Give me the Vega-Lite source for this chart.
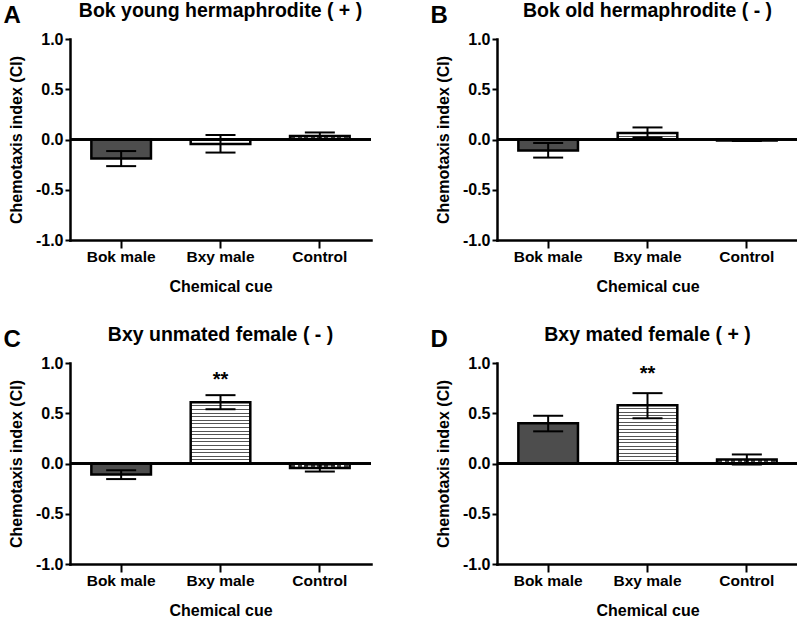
{
  "$schema": "https://vega.github.io/schema/vega-lite/v6.json",
  "padding": {"left": 3, "top": 0, "right": 2, "bottom": 0},
  "background": "white",
  "config": {
    "font": "Liberation Sans",
    "view": {"stroke": null},
    "axis": {"domainColor": "black", "tickColor": "black", "labelColor": "black", "titleColor": "black", "labelFontWeight": "bold", "titleFontWeight": "bold", "grid": false, "labelFont": "Liberation Sans", "titleFont": "Liberation Sans", "domainCap": "square"},
    "axisX": {"domainWidth": 2.5, "tickWidth": 2, "tickSize": 8, "labelFontSize": 15.5, "labelAngle": 0, "labelPadding": 1, "titleFontSize": 16, "titlePadding": 14},
    "axisY": {"domainWidth": 2.5, "tickWidth": 2, "tickSize": 5, "labelFontSize": 16, "labelPadding": 2, "titleFontSize": 16, "titlePadding": 11},
    "title": {"font": "Liberation Sans", "fontSize": 19.5, "fontWeight": "bold", "color": "black", "offset": 10}
  },
  "datasets": {
    "cues": [
      {"panel": "A", "cue": "Bok male", "mean": -0.19, "lo": -0.265, "hi": -0.115, "sig": ""},
      {"panel": "A", "cue": "Bxy male", "mean": -0.045, "lo": -0.13, "hi": 0.045, "sig": ""},
      {"panel": "A", "cue": "Control", "mean": 0.035, "lo": 0.0, "hi": 0.07, "sig": ""},
      {"panel": "B", "cue": "Bok male", "mean": -0.11, "lo": -0.18, "hi": -0.035, "sig": ""},
      {"panel": "B", "cue": "Bxy male", "mean": 0.065, "lo": 0.02, "hi": 0.12, "sig": ""},
      {"panel": "B", "cue": "Control", "mean": -0.01, "lo": -0.015, "hi": -0.005, "sig": ""},
      {"panel": "C", "cue": "Bok male", "mean": -0.11, "lo": -0.155, "hi": -0.067, "sig": ""},
      {"panel": "C", "cue": "Bxy male", "mean": 0.61, "lo": 0.54, "hi": 0.68, "sig": "**"},
      {"panel": "C", "cue": "Control", "mean": -0.045, "lo": -0.08, "hi": -0.01, "sig": ""},
      {"panel": "D", "cue": "Bok male", "mean": 0.40, "lo": 0.32, "hi": 0.475, "sig": ""},
      {"panel": "D", "cue": "Bxy male", "mean": 0.58, "lo": 0.45, "hi": 0.70, "sig": "**"},
      {"panel": "D", "cue": "Control", "mean": 0.04, "lo": -0.01, "hi": 0.09, "sig": ""}
    ]
  },
  "columns": 2,
  "spacing": {"row": 29, "column": 57},
  "concat": [
    {
      "title": {"text": "A", "anchor": "start", "frame": "bounds", "fontSize": 24, "offset": -27, "dx": -5},
      "vconcat": [{
        "title": {"text": "Bok young hermaphrodite ( + )"},
        "width": 301, "height": 201,
        "data": {"name": "cues"},
        "transform": [{"filter": "datum.panel === 'A'"}],
        "layer": [
          {"transform": [{"filter": "datum.cue === 'Bok male'"}], "mark": {"type": "bar", "fill": "#4d4d4d", "stroke": "black", "strokeWidth": 2.5},
           "encoding": {"x": {"field": "cue", "type": "nominal", "sort": ["Bok male", "Bxy male", "Control"], "scale": {"paddingInner": 0.4, "paddingOuter": 0.215}, "title": "Chemical cue"},
                        "y": {"field": "mean", "type": "quantitative", "scale": {"domain": [-1, 1], "nice": false}, "axis": {"values": [-1, -0.5, 0, 0.5, 1], "labelExpr": "(datum.value < 0 ? '-' : '') + format(abs(datum.value), '.1f')"}, "title": "Chemotaxis index (CI)"}}},
          {"transform": [{"filter": "datum.cue === 'Bxy male'"}], "mark": {"type": "bar", "fill": "white", "stroke": "black", "strokeWidth": 2.5},
           "encoding": {"x": {"field": "cue", "type": "nominal", "sort": ["Bok male", "Bxy male", "Control"]}, "y": {"field": "mean", "type": "quantitative"}}},
          {"transform": [{"filter": "datum.cue === 'Control'"}], "mark": {"type": "bar", "stroke": "black", "strokeWidth": 2.5,
             "fill": {"gradient": "linear", "x1": 0, "y1": 0, "x2": 1, "y2": 0, "stops": [
               {"offset": 0, "color": "white"},
               {"offset": 0.015, "color": "white"}, {"offset": 0.015, "color": "#444"}, {"offset": 0.085, "color": "#444"}, {"offset": 0.085, "color": "white"},
               {"offset": 0.126, "color": "white"}, {"offset": 0.126, "color": "#444"}, {"offset": 0.196, "color": "#444"}, {"offset": 0.196, "color": "white"},
               {"offset": 0.237, "color": "white"}, {"offset": 0.237, "color": "#444"}, {"offset": 0.307, "color": "#444"}, {"offset": 0.307, "color": "white"},
               {"offset": 0.348, "color": "white"}, {"offset": 0.348, "color": "#444"}, {"offset": 0.418, "color": "#444"}, {"offset": 0.418, "color": "white"},
               {"offset": 0.459, "color": "white"}, {"offset": 0.459, "color": "#444"}, {"offset": 0.529, "color": "#444"}, {"offset": 0.529, "color": "white"},
               {"offset": 0.571, "color": "white"}, {"offset": 0.571, "color": "#444"}, {"offset": 0.641, "color": "#444"}, {"offset": 0.641, "color": "white"},
               {"offset": 0.682, "color": "white"}, {"offset": 0.682, "color": "#444"}, {"offset": 0.752, "color": "#444"}, {"offset": 0.752, "color": "white"},
               {"offset": 0.793, "color": "white"}, {"offset": 0.793, "color": "#444"}, {"offset": 0.863, "color": "#444"}, {"offset": 0.863, "color": "white"},
               {"offset": 0.904, "color": "white"}, {"offset": 0.904, "color": "#444"}, {"offset": 0.974, "color": "#444"}, {"offset": 0.974, "color": "white"},
               {"offset": 1, "color": "white"}]}},
           "encoding": {"x": {"field": "cue", "type": "nominal", "sort": ["Bok male", "Bxy male", "Control"]}, "y": {"field": "mean", "type": "quantitative"}}},
          {"mark": {"type": "rule", "strokeWidth": 2.5, "color": "black"}, "encoding": {"y": {"datum": 0, "type": "quantitative"}}},
          {"mark": {"type": "rule", "strokeWidth": 2, "color": "black"},
           "encoding": {"x": {"field": "cue", "type": "nominal", "sort": ["Bok male", "Bxy male", "Control"]}, "y": {"field": "lo", "type": "quantitative"}, "y2": {"field": "hi"}}},
          {"mark": {"type": "tick", "size": 30, "thickness": 2, "color": "black", "opacity": 1},
           "encoding": {"x": {"field": "cue", "type": "nominal", "sort": ["Bok male", "Bxy male", "Control"]}, "y": {"field": "lo", "type": "quantitative"}}},
          {"mark": {"type": "tick", "size": 30, "thickness": 2, "color": "black", "opacity": 1},
           "encoding": {"x": {"field": "cue", "type": "nominal", "sort": ["Bok male", "Bxy male", "Control"]}, "y": {"field": "hi", "type": "quantitative"}}}
        ]
      }]
    },
    {
      "title": {"text": "B", "anchor": "start", "frame": "bounds", "fontSize": 24, "offset": -27, "dx": -5},
      "vconcat": [{
        "title": {"text": "Bok old hermaphrodite ( - )"},
        "width": 301, "height": 201,
        "data": {"name": "cues"},
        "transform": [{"filter": "datum.panel === 'B'"}],
        "layer": [
          {"transform": [{"filter": "datum.cue === 'Bok male'"}], "mark": {"type": "bar", "fill": "#4d4d4d", "stroke": "black", "strokeWidth": 2.5},
           "encoding": {"x": {"field": "cue", "type": "nominal", "sort": ["Bok male", "Bxy male", "Control"], "scale": {"paddingInner": 0.4, "paddingOuter": 0.215}, "title": "Chemical cue"},
                        "y": {"field": "mean", "type": "quantitative", "scale": {"domain": [-1, 1], "nice": false}, "axis": {"values": [-1, -0.5, 0, 0.5, 1], "labelExpr": "(datum.value < 0 ? '-' : '') + format(abs(datum.value), '.1f')"}, "title": "Chemotaxis index (CI)"}}},
          {"transform": [{"filter": "datum.cue === 'Bxy male'"}], "mark": {"type": "bar", "stroke": "black", "strokeWidth": 2.5,
             "fill": {"gradient": "linear", "x1": 0, "y1": 0, "x2": 0, "y2": 1, "stops": [
               {"offset": 0, "color": "white"}, {"offset": 0.42, "color": "white"}, {"offset": 0.42, "color": "#555"}, {"offset": 0.58, "color": "#555"}, {"offset": 0.58, "color": "white"}, {"offset": 1, "color": "white"}]}},
           "encoding": {"x": {"field": "cue", "type": "nominal", "sort": ["Bok male", "Bxy male", "Control"]}, "y": {"field": "mean", "type": "quantitative"}}},
          {"transform": [{"filter": "datum.cue === 'Control'"}], "mark": {"type": "bar", "fill": "white", "stroke": "black", "strokeWidth": 2.5},
           "encoding": {"x": {"field": "cue", "type": "nominal", "sort": ["Bok male", "Bxy male", "Control"]}, "y": {"field": "mean", "type": "quantitative"}}},
          {"mark": {"type": "rule", "strokeWidth": 2.5, "color": "black"}, "encoding": {"y": {"datum": 0, "type": "quantitative"}}},
          {"mark": {"type": "rule", "strokeWidth": 2, "color": "black"},
           "encoding": {"x": {"field": "cue", "type": "nominal", "sort": ["Bok male", "Bxy male", "Control"]}, "y": {"field": "lo", "type": "quantitative"}, "y2": {"field": "hi"}}},
          {"mark": {"type": "tick", "size": 30, "thickness": 2, "color": "black", "opacity": 1},
           "encoding": {"x": {"field": "cue", "type": "nominal", "sort": ["Bok male", "Bxy male", "Control"]}, "y": {"field": "lo", "type": "quantitative"}}},
          {"mark": {"type": "tick", "size": 30, "thickness": 2, "color": "black", "opacity": 1},
           "encoding": {"x": {"field": "cue", "type": "nominal", "sort": ["Bok male", "Bxy male", "Control"]}, "y": {"field": "hi", "type": "quantitative"}}}
        ]
      }]
    },
    {
      "title": {"text": "C", "anchor": "start", "frame": "bounds", "fontSize": 24, "offset": -27, "dx": -5},
      "vconcat": [{
        "title": {"text": "Bxy unmated female ( - )"},
        "width": 301, "height": 201,
        "data": {"name": "cues"},
        "transform": [{"filter": "datum.panel === 'C'"}],
        "layer": [
          {"transform": [{"filter": "datum.cue === 'Bok male'"}], "mark": {"type": "bar", "fill": "#4d4d4d", "stroke": "black", "strokeWidth": 2.5},
           "encoding": {"x": {"field": "cue", "type": "nominal", "sort": ["Bok male", "Bxy male", "Control"], "scale": {"paddingInner": 0.4, "paddingOuter": 0.215}, "title": "Chemical cue"},
                        "y": {"field": "mean", "type": "quantitative", "scale": {"domain": [-1, 1], "nice": false}, "axis": {"values": [-1, -0.5, 0, 0.5, 1], "labelExpr": "(datum.value < 0 ? '-' : '') + format(abs(datum.value), '.1f')"}, "title": "Chemotaxis index (CI)"}}},
          {"transform": [{"filter": "datum.cue === 'Bxy male'"}], "mark": {"type": "bar", "stroke": "black", "strokeWidth": 2.5,
             "fill": {"gradient": "linear", "x1": 0, "y1": 0, "x2": 0, "y2": 1, "stops": [
               {"offset": 0, "color": "white"},
               {"offset": 0.0508, "color": "white"}, {"offset": 0.0508, "color": "#555"}, {"offset": 0.0668, "color": "#555"}, {"offset": 0.0668, "color": "white"},
               {"offset": 0.1096, "color": "white"}, {"offset": 0.1096, "color": "#555"}, {"offset": 0.1256, "color": "#555"}, {"offset": 0.1256, "color": "white"},
               {"offset": 0.1685, "color": "white"}, {"offset": 0.1685, "color": "#555"}, {"offset": 0.1845, "color": "#555"}, {"offset": 0.1845, "color": "white"},
               {"offset": 0.2273, "color": "white"}, {"offset": 0.2273, "color": "#555"}, {"offset": 0.2433, "color": "#555"}, {"offset": 0.2433, "color": "white"},
               {"offset": 0.2861, "color": "white"}, {"offset": 0.2861, "color": "#555"}, {"offset": 0.3021, "color": "#555"}, {"offset": 0.3021, "color": "white"},
               {"offset": 0.3449, "color": "white"}, {"offset": 0.3449, "color": "#555"}, {"offset": 0.3609, "color": "#555"}, {"offset": 0.3609, "color": "white"},
               {"offset": 0.4038, "color": "white"}, {"offset": 0.4038, "color": "#555"}, {"offset": 0.4198, "color": "#555"}, {"offset": 0.4198, "color": "white"},
               {"offset": 0.4626, "color": "white"}, {"offset": 0.4626, "color": "#555"}, {"offset": 0.4786, "color": "#555"}, {"offset": 0.4786, "color": "white"},
               {"offset": 0.5214, "color": "white"}, {"offset": 0.5214, "color": "#555"}, {"offset": 0.5374, "color": "#555"}, {"offset": 0.5374, "color": "white"},
               {"offset": 0.5802, "color": "white"}, {"offset": 0.5802, "color": "#555"}, {"offset": 0.5962, "color": "#555"}, {"offset": 0.5962, "color": "white"},
               {"offset": 0.6391, "color": "white"}, {"offset": 0.6391, "color": "#555"}, {"offset": 0.6551, "color": "#555"}, {"offset": 0.6551, "color": "white"},
               {"offset": 0.6979, "color": "white"}, {"offset": 0.6979, "color": "#555"}, {"offset": 0.7139, "color": "#555"}, {"offset": 0.7139, "color": "white"},
               {"offset": 0.7567, "color": "white"}, {"offset": 0.7567, "color": "#555"}, {"offset": 0.7727, "color": "#555"}, {"offset": 0.7727, "color": "white"},
               {"offset": 0.8155, "color": "white"}, {"offset": 0.8155, "color": "#555"}, {"offset": 0.8315, "color": "#555"}, {"offset": 0.8315, "color": "white"},
               {"offset": 0.8744, "color": "white"}, {"offset": 0.8744, "color": "#555"}, {"offset": 0.8904, "color": "#555"}, {"offset": 0.8904, "color": "white"},
               {"offset": 0.9332, "color": "white"}, {"offset": 0.9332, "color": "#555"}, {"offset": 0.9492, "color": "#555"}, {"offset": 0.9492, "color": "white"},
               {"offset": 1, "color": "white"}]}},
           "encoding": {"x": {"field": "cue", "type": "nominal", "sort": ["Bok male", "Bxy male", "Control"]}, "y": {"field": "mean", "type": "quantitative"}}},
          {"transform": [{"filter": "datum.cue === 'Control'"}], "mark": {"type": "bar", "stroke": "black", "strokeWidth": 2.5,
             "fill": {"gradient": "linear", "x1": 0, "y1": 0, "x2": 1, "y2": 0, "stops": [
               {"offset": 0, "color": "white"},
               {"offset": 0.015, "color": "white"}, {"offset": 0.015, "color": "#444"}, {"offset": 0.085, "color": "#444"}, {"offset": 0.085, "color": "white"},
               {"offset": 0.126, "color": "white"}, {"offset": 0.126, "color": "#444"}, {"offset": 0.196, "color": "#444"}, {"offset": 0.196, "color": "white"},
               {"offset": 0.237, "color": "white"}, {"offset": 0.237, "color": "#444"}, {"offset": 0.307, "color": "#444"}, {"offset": 0.307, "color": "white"},
               {"offset": 0.348, "color": "white"}, {"offset": 0.348, "color": "#444"}, {"offset": 0.418, "color": "#444"}, {"offset": 0.418, "color": "white"},
               {"offset": 0.459, "color": "white"}, {"offset": 0.459, "color": "#444"}, {"offset": 0.529, "color": "#444"}, {"offset": 0.529, "color": "white"},
               {"offset": 0.571, "color": "white"}, {"offset": 0.571, "color": "#444"}, {"offset": 0.641, "color": "#444"}, {"offset": 0.641, "color": "white"},
               {"offset": 0.682, "color": "white"}, {"offset": 0.682, "color": "#444"}, {"offset": 0.752, "color": "#444"}, {"offset": 0.752, "color": "white"},
               {"offset": 0.793, "color": "white"}, {"offset": 0.793, "color": "#444"}, {"offset": 0.863, "color": "#444"}, {"offset": 0.863, "color": "white"},
               {"offset": 0.904, "color": "white"}, {"offset": 0.904, "color": "#444"}, {"offset": 0.974, "color": "#444"}, {"offset": 0.974, "color": "white"},
               {"offset": 1, "color": "white"}]}},
           "encoding": {"x": {"field": "cue", "type": "nominal", "sort": ["Bok male", "Bxy male", "Control"]}, "y": {"field": "mean", "type": "quantitative"}}},
          {"mark": {"type": "rule", "strokeWidth": 2.5, "color": "black"}, "encoding": {"y": {"datum": 0, "type": "quantitative"}}},
          {"mark": {"type": "rule", "strokeWidth": 2, "color": "black"},
           "encoding": {"x": {"field": "cue", "type": "nominal", "sort": ["Bok male", "Bxy male", "Control"]}, "y": {"field": "lo", "type": "quantitative"}, "y2": {"field": "hi"}}},
          {"mark": {"type": "tick", "size": 30, "thickness": 2, "color": "black", "opacity": 1},
           "encoding": {"x": {"field": "cue", "type": "nominal", "sort": ["Bok male", "Bxy male", "Control"]}, "y": {"field": "lo", "type": "quantitative"}}},
          {"mark": {"type": "tick", "size": 30, "thickness": 2, "color": "black", "opacity": 1},
           "encoding": {"x": {"field": "cue", "type": "nominal", "sort": ["Bok male", "Bxy male", "Control"]}, "y": {"field": "hi", "type": "quantitative"}}},
          {"transform": [{"filter": "datum.sig !== ''"}], "mark": {"type": "text", "fontSize": 20, "fontWeight": "bold", "color": "black", "baseline": "middle", "dy": -15},
           "encoding": {"x": {"field": "cue", "type": "nominal", "sort": ["Bok male", "Bxy male", "Control"]}, "y": {"field": "hi", "type": "quantitative"}, "text": {"field": "sig"}}}
        ]
      }]
    },
    {
      "title": {"text": "D", "anchor": "start", "frame": "bounds", "fontSize": 24, "offset": -27, "dx": -5},
      "vconcat": [{
        "title": {"text": "Bxy mated female ( + )"},
        "width": 301, "height": 201,
        "data": {"name": "cues"},
        "transform": [{"filter": "datum.panel === 'D'"}],
        "layer": [
          {"transform": [{"filter": "datum.cue === 'Bok male'"}], "mark": {"type": "bar", "fill": "#4d4d4d", "stroke": "black", "strokeWidth": 2.5},
           "encoding": {"x": {"field": "cue", "type": "nominal", "sort": ["Bok male", "Bxy male", "Control"], "scale": {"paddingInner": 0.4, "paddingOuter": 0.215}, "title": "Chemical cue"},
                        "y": {"field": "mean", "type": "quantitative", "scale": {"domain": [-1, 1], "nice": false}, "axis": {"values": [-1, -0.5, 0, 0.5, 1], "labelExpr": "(datum.value < 0 ? '-' : '') + format(abs(datum.value), '.1f')"}, "title": "Chemotaxis index (CI)"}}},
          {"transform": [{"filter": "datum.cue === 'Bxy male'"}], "mark": {"type": "bar", "stroke": "black", "strokeWidth": 2.5,
             "fill": {"gradient": "linear", "x1": 0, "y1": 0, "x2": 0, "y2": 1, "stops": [
               {"offset": 0, "color": "white"},
               {"offset": 0.0508, "color": "white"}, {"offset": 0.0508, "color": "#555"}, {"offset": 0.0668, "color": "#555"}, {"offset": 0.0668, "color": "white"},
               {"offset": 0.1096, "color": "white"}, {"offset": 0.1096, "color": "#555"}, {"offset": 0.1256, "color": "#555"}, {"offset": 0.1256, "color": "white"},
               {"offset": 0.1685, "color": "white"}, {"offset": 0.1685, "color": "#555"}, {"offset": 0.1845, "color": "#555"}, {"offset": 0.1845, "color": "white"},
               {"offset": 0.2273, "color": "white"}, {"offset": 0.2273, "color": "#555"}, {"offset": 0.2433, "color": "#555"}, {"offset": 0.2433, "color": "white"},
               {"offset": 0.2861, "color": "white"}, {"offset": 0.2861, "color": "#555"}, {"offset": 0.3021, "color": "#555"}, {"offset": 0.3021, "color": "white"},
               {"offset": 0.3449, "color": "white"}, {"offset": 0.3449, "color": "#555"}, {"offset": 0.3609, "color": "#555"}, {"offset": 0.3609, "color": "white"},
               {"offset": 0.4038, "color": "white"}, {"offset": 0.4038, "color": "#555"}, {"offset": 0.4198, "color": "#555"}, {"offset": 0.4198, "color": "white"},
               {"offset": 0.4626, "color": "white"}, {"offset": 0.4626, "color": "#555"}, {"offset": 0.4786, "color": "#555"}, {"offset": 0.4786, "color": "white"},
               {"offset": 0.5214, "color": "white"}, {"offset": 0.5214, "color": "#555"}, {"offset": 0.5374, "color": "#555"}, {"offset": 0.5374, "color": "white"},
               {"offset": 0.5802, "color": "white"}, {"offset": 0.5802, "color": "#555"}, {"offset": 0.5962, "color": "#555"}, {"offset": 0.5962, "color": "white"},
               {"offset": 0.6391, "color": "white"}, {"offset": 0.6391, "color": "#555"}, {"offset": 0.6551, "color": "#555"}, {"offset": 0.6551, "color": "white"},
               {"offset": 0.6979, "color": "white"}, {"offset": 0.6979, "color": "#555"}, {"offset": 0.7139, "color": "#555"}, {"offset": 0.7139, "color": "white"},
               {"offset": 0.7567, "color": "white"}, {"offset": 0.7567, "color": "#555"}, {"offset": 0.7727, "color": "#555"}, {"offset": 0.7727, "color": "white"},
               {"offset": 0.8155, "color": "white"}, {"offset": 0.8155, "color": "#555"}, {"offset": 0.8315, "color": "#555"}, {"offset": 0.8315, "color": "white"},
               {"offset": 0.8744, "color": "white"}, {"offset": 0.8744, "color": "#555"}, {"offset": 0.8904, "color": "#555"}, {"offset": 0.8904, "color": "white"},
               {"offset": 0.9332, "color": "white"}, {"offset": 0.9332, "color": "#555"}, {"offset": 0.9492, "color": "#555"}, {"offset": 0.9492, "color": "white"},
               {"offset": 1, "color": "white"}]}},
           "encoding": {"x": {"field": "cue", "type": "nominal", "sort": ["Bok male", "Bxy male", "Control"]}, "y": {"field": "mean", "type": "quantitative"}}},
          {"transform": [{"filter": "datum.cue === 'Control'"}], "mark": {"type": "bar", "stroke": "black", "strokeWidth": 2.5,
             "fill": {"gradient": "linear", "x1": 0, "y1": 0, "x2": 1, "y2": 0, "stops": [
               {"offset": 0, "color": "white"},
               {"offset": 0.015, "color": "white"}, {"offset": 0.015, "color": "#444"}, {"offset": 0.085, "color": "#444"}, {"offset": 0.085, "color": "white"},
               {"offset": 0.126, "color": "white"}, {"offset": 0.126, "color": "#444"}, {"offset": 0.196, "color": "#444"}, {"offset": 0.196, "color": "white"},
               {"offset": 0.237, "color": "white"}, {"offset": 0.237, "color": "#444"}, {"offset": 0.307, "color": "#444"}, {"offset": 0.307, "color": "white"},
               {"offset": 0.348, "color": "white"}, {"offset": 0.348, "color": "#444"}, {"offset": 0.418, "color": "#444"}, {"offset": 0.418, "color": "white"},
               {"offset": 0.459, "color": "white"}, {"offset": 0.459, "color": "#444"}, {"offset": 0.529, "color": "#444"}, {"offset": 0.529, "color": "white"},
               {"offset": 0.571, "color": "white"}, {"offset": 0.571, "color": "#444"}, {"offset": 0.641, "color": "#444"}, {"offset": 0.641, "color": "white"},
               {"offset": 0.682, "color": "white"}, {"offset": 0.682, "color": "#444"}, {"offset": 0.752, "color": "#444"}, {"offset": 0.752, "color": "white"},
               {"offset": 0.793, "color": "white"}, {"offset": 0.793, "color": "#444"}, {"offset": 0.863, "color": "#444"}, {"offset": 0.863, "color": "white"},
               {"offset": 0.904, "color": "white"}, {"offset": 0.904, "color": "#444"}, {"offset": 0.974, "color": "#444"}, {"offset": 0.974, "color": "white"},
               {"offset": 1, "color": "white"}]}},
           "encoding": {"x": {"field": "cue", "type": "nominal", "sort": ["Bok male", "Bxy male", "Control"]}, "y": {"field": "mean", "type": "quantitative"}}},
          {"mark": {"type": "rule", "strokeWidth": 2.5, "color": "black"}, "encoding": {"y": {"datum": 0, "type": "quantitative"}}},
          {"mark": {"type": "rule", "strokeWidth": 2, "color": "black"},
           "encoding": {"x": {"field": "cue", "type": "nominal", "sort": ["Bok male", "Bxy male", "Control"]}, "y": {"field": "lo", "type": "quantitative"}, "y2": {"field": "hi"}}},
          {"mark": {"type": "tick", "size": 30, "thickness": 2, "color": "black", "opacity": 1},
           "encoding": {"x": {"field": "cue", "type": "nominal", "sort": ["Bok male", "Bxy male", "Control"]}, "y": {"field": "lo", "type": "quantitative"}}},
          {"mark": {"type": "tick", "size": 30, "thickness": 2, "color": "black", "opacity": 1},
           "encoding": {"x": {"field": "cue", "type": "nominal", "sort": ["Bok male", "Bxy male", "Control"]}, "y": {"field": "hi", "type": "quantitative"}}},
          {"transform": [{"filter": "datum.sig !== ''"}], "mark": {"type": "text", "fontSize": 20, "fontWeight": "bold", "color": "black", "baseline": "middle", "dy": -19},
           "encoding": {"x": {"field": "cue", "type": "nominal", "sort": ["Bok male", "Bxy male", "Control"]}, "y": {"field": "hi", "type": "quantitative"}, "text": {"field": "sig"}}}
        ]
      }]
    }
  ]
}
